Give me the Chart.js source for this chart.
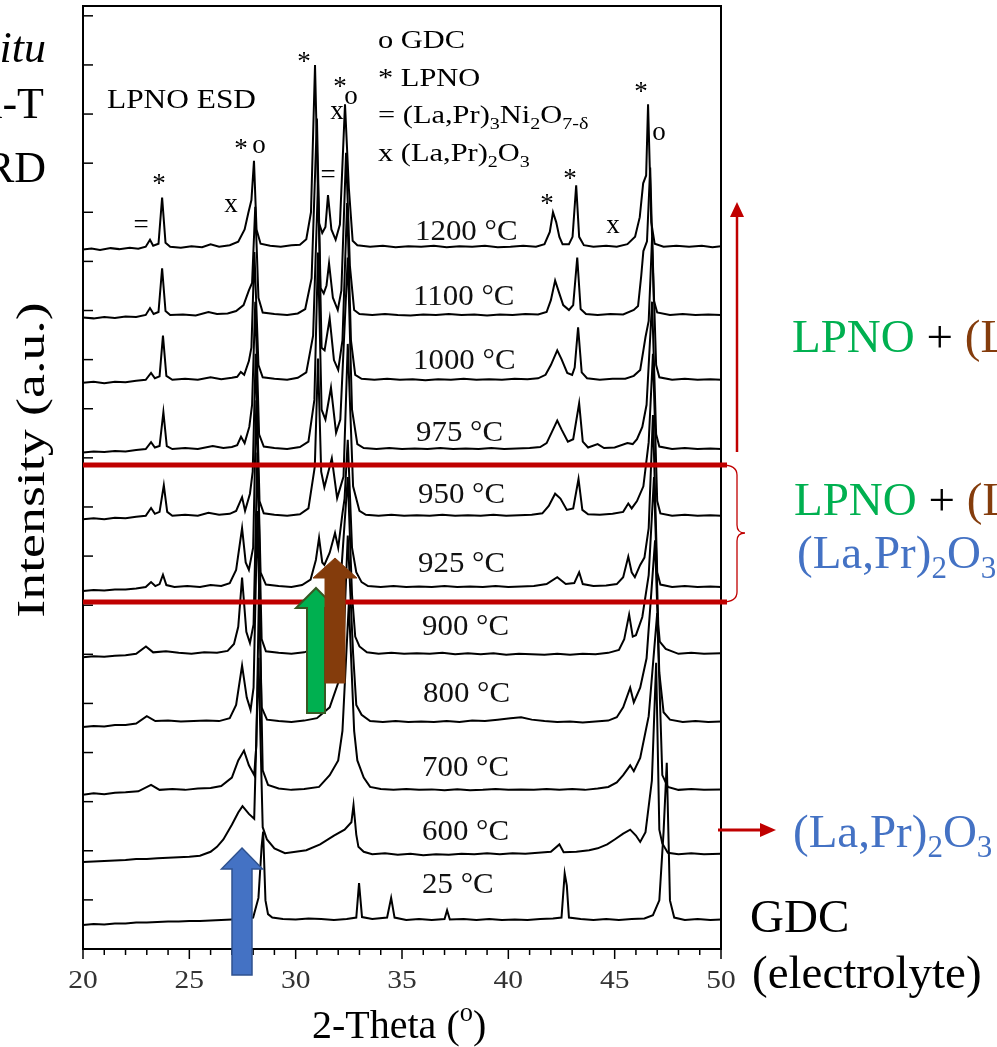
<!DOCTYPE html>
<html>
<head>
<meta charset="utf-8">
<script src="https://cdn.jsdelivr.net/npm/chart.js@4.4.1/dist/chart.umd.min.js"></script>
<style>
  html, body { margin: 0; padding: 0; background: #fff; }
  canvas { display: block; }
</style>
</head>
<body>
<canvas id="xrd" width="997" height="1047"></canvas>
<script>
// temperatures, bottom to top
const temps = ['25 °C', '600 °C', '700 °C', '800 °C', '900 °C', '925 °C', '950 °C', '975 °C', '1000 °C', '1100 °C', '1200 °C']
// vertical stacking offset of each pattern (a.u.)
const offsets = [0.59, 1.93, 3.24, 4.62, 6.01, 7.37, 8.82, 10.18, 11.59, 12.91, 14.30]
const xTicks = [20, 25, 30, 35, 40, 45, 50]

// [2-theta, intensity above baseline]
const p25 = [[20,-0.1],[20.5,-0.08],[21.0,-0.09],[21.5,-0.07],[22.0,-0.07],[22.5,-0.05],[23.0,-0.05],[23.5,-0.04],[24.0,-0.03],[24.5,-0.03],[25.0,-0.02],[25.5,-0.02],[26.0,-0.01],[26.5,0.0],[27.0,0.01],[27.5,0.02],[28.0,0.05],[28.25,0.45],[28.4,1.5],[28.47,1.8],[28.58,0.4],[28.7,0.12],[28.9,0.05],[29.4,0.02],[30.0,0.01],[30.6,0.03],[31.2,0.02],[31.8,0.0],[32.4,0.02],[32.85,0.05],[32.98,0.75],[33.12,0.06],[33.6,0.02],[34.3,0.05],[34.49,0.45],[34.65,0.05],[35.2,0.0],[35.8,0.02],[36.4,0.0],[37.0,0.02],[37.12,0.2],[37.25,0.01],[37.9,0.02],[38.5,0.0],[39.1,0.02],[39.7,0.0],[40.3,0.01],[40.9,0.0],[41.5,0.02],[42.1,0.03],[42.5,0.05],[42.65,0.95],[42.75,0.7],[42.85,0.05],[43.4,0.02],[44.0,0.0],[44.6,0.02],[45.2,0.0],[45.8,0.02],[46.4,0.03],[46.8,0.1],[47.1,0.4],[47.3,1.8],[47.45,3.2],[47.6,0.4],[47.8,0.05],[48.3,0.0],[48.9,0.02],[49.5,0.0],[50,0.01]]
const p600 = [[20,-0.16],[20.5,-0.15],[21.0,-0.14],[21.5,-0.13],[22.0,-0.12],[22.5,-0.1],[23.0,-0.1],[23.5,-0.08],[24.0,-0.07],[24.5,-0.06],[25.0,-0.05],[25.5,-0.03],[26.0,0.05],[26.3,0.15],[26.6,0.3],[27.0,0.6],[27.3,0.85],[27.5,0.98],[27.8,0.82],[28.05,0.72],[28.25,4.0],[28.45,0.55],[28.65,0.3],[29.0,0.12],[29.5,0.02],[30.0,0.05],[30.5,0.08],[31.15,0.2],[31.8,0.38],[32.3,0.5],[32.62,0.65],[32.72,1.0],[32.85,0.4],[32.95,0.15],[33.2,0.05],[33.6,0.0],[34.2,0.02],[34.8,-0.01],[35.4,0.01],[36.0,-0.02],[36.6,0.0],[37.2,-0.01],[37.8,0.01],[38.4,0.0],[39.0,0.02],[39.6,0.0],[40.2,0.02],[40.8,0.01],[41.4,0.03],[42.0,0.05],[42.4,0.2],[42.6,0.04],[43.2,0.05],[43.8,0.08],[44.2,0.12],[44.65,0.2],[45.0,0.3],[45.4,0.42],[45.73,0.5],[46.0,0.38],[46.2,0.25],[46.45,0.45],[46.75,1.5],[46.95,3.9],[47.1,0.5],[47.24,0.22],[47.5,0.03],[48.0,0.0],[48.6,0.02],[49.2,0.0],[50,0.01]]
const p700 = [[20,-0.1],[20.5,-0.07],[21.0,-0.09],[21.5,-0.06],[22.0,-0.05],[22.6,-0.03],[23.2,0.1],[23.6,0.0],[24.2,0.02],[24.8,0.0],[25.4,0.03],[26.0,0.04],[26.5,0.08],[27.0,0.25],[27.3,0.6],[27.57,0.8],[27.8,0.5],[28.05,0.3],[28.15,0.9],[28.28,4.2],[28.45,0.4],[28.7,0.1],[29.2,0.03],[29.8,0.0],[30.4,0.02],[31.1,0.06],[31.6,0.3],[32.0,0.6],[32.2,1.2],[32.5,3.8],[32.75,1.2],[32.9,0.6],[33.2,0.25],[33.5,0.06],[34.0,0.02],[34.6,0.0],[35.2,0.02],[35.8,0.0],[36.4,0.01],[37.0,-0.01],[37.6,0.01],[38.2,-0.01],[38.8,0.0],[39.4,0.02],[40.0,0.0],[40.6,0.01],[41.2,0.0],[41.8,0.02],[42.4,0.0],[43.0,0.02],[43.6,0.0],[44.2,0.03],[44.7,0.06],[45.1,0.15],[45.4,0.3],[45.73,0.5],[45.9,0.38],[46.2,0.65],[46.6,1.5],[47.0,3.6],[47.24,0.3],[47.5,0.06],[48.0,0.0],[48.6,0.02],[49.2,0.0],[50,0.01]]
const p800 = [[20,-0.1],[20.5,-0.08],[21.0,-0.09],[21.5,-0.06],[22.0,-0.06],[22.5,-0.03],[23.0,0.12],[23.4,0.02],[24.0,0.03],[24.6,0.01],[25.2,0.02],[25.8,0.03],[26.4,0.02],[26.9,0.08],[27.2,0.35],[27.48,1.15],[27.7,0.5],[27.88,0.25],[28.02,0.7],[28.2,4.3],[28.4,0.3],[28.65,0.05],[29.2,0.02],[29.8,0.0],[30.4,0.03],[31.0,0.08],[31.6,0.3],[32.0,0.8],[32.25,1.6],[32.45,3.8],[32.7,1.4],[32.85,0.35],[33.1,0.15],[33.5,0.02],[34.1,0.0],[34.7,0.02],[35.3,0.0],[35.9,0.01],[36.5,0.0],[37.1,0.02],[37.7,0.0],[38.3,0.03],[38.9,0.02],[39.5,0.05],[40.1,0.08],[40.6,0.1],[41.1,0.05],[41.7,0.02],[42.3,0.0],[42.9,0.01],[43.5,-0.01],[44.1,0.01],[44.7,0.03],[45.1,0.1],[45.4,0.3],[45.73,0.7],[45.9,0.4],[46.2,0.7],[46.5,1.3],[46.9,3.7],[47.1,1.0],[47.3,0.2],[47.6,0.05],[48.2,0.0],[48.8,0.02],[49.4,0.0],[50,0.01]]
const p900 = [[20,-0.07],[20.5,-0.05],[21.0,-0.06],[21.5,-0.04],[22.0,-0.03],[22.5,0.0],[22.96,0.15],[23.3,0.03],[23.9,0.05],[24.5,0.02],[25.1,0.0],[25.7,0.03],[26.3,0.02],[26.8,0.06],[27.1,0.2],[27.3,0.55],[27.48,1.55],[27.68,0.45],[27.85,0.22],[28.02,0.6],[28.2,4.1],[28.4,0.3],[28.6,0.05],[29.2,0.02],[29.8,0.0],[30.4,0.03],[31.0,0.12],[31.5,0.35],[31.8,0.7],[32.1,1.4],[32.45,3.6],[32.65,1.2],[32.8,0.35],[33.0,0.15],[33.35,0.03],[33.9,0.0],[34.5,0.02],[35.1,0.0],[35.7,0.01],[36.3,0.0],[36.9,0.02],[37.5,-0.01],[38.1,0.01],[38.7,-0.01],[39.3,0.01],[39.9,-0.02],[40.5,0.0],[41.1,-0.01],[41.7,-0.02],[42.3,0.0],[42.9,-0.02],[43.5,0.0],[44.1,-0.01],[44.7,0.02],[45.2,0.08],[45.45,0.3],[45.68,0.8],[45.85,0.35],[46.0,0.38],[46.3,0.75],[46.6,1.6],[46.85,3.6],[47.05,0.6],[47.12,0.25],[47.4,0.1],[48.0,0.0],[48.6,0.02],[49.2,0.0],[50,0.01]]
const p925 = [[20,-0.08],[20.5,-0.06],[21.0,-0.07],[21.5,-0.05],[22.0,-0.05],[22.5,-0.03],[22.95,0.0],[23.2,0.1],[23.4,0.02],[23.6,0.06],[23.76,0.25],[23.92,0.04],[24.3,0.0],[24.9,0.02],[25.5,0.0],[26.0,0.04],[26.5,0.02],[26.9,0.08],[27.2,0.35],[27.48,1.2],[27.65,0.5],[27.8,0.35],[28.0,0.8],[28.15,3.8],[28.35,0.3],[28.6,0.05],[29.2,0.02],[29.8,0.0],[30.3,0.04],[30.7,0.15],[30.95,0.55],[31.1,1.0],[31.25,0.5],[31.35,0.45],[31.6,0.7],[31.85,1.1],[32.0,0.8],[32.2,1.5],[32.3,1.8],[32.45,3.0],[32.65,0.8],[32.85,0.3],[33.1,0.1],[33.4,0.02],[34.0,0.0],[34.6,0.02],[35.2,0.0],[35.8,0.01],[36.4,0.0],[37.0,0.02],[37.6,0.0],[38.2,0.01],[38.8,0.0],[39.4,0.02],[40.0,0.0],[40.6,0.01],[41.2,0.02],[41.8,0.06],[42.3,0.2],[42.7,0.06],[43.1,0.08],[43.33,0.3],[43.5,0.06],[44.0,0.02],[44.6,0.03],[45.1,0.06],[45.4,0.2],[45.64,0.62],[45.8,0.3],[45.95,0.2],[46.2,0.45],[46.4,0.6],[46.6,1.2],[46.8,3.5],[47.0,0.3],[47.15,0.05],[47.7,0.0],[48.3,0.02],[48.9,0.0],[49.5,0.01],[50,0.0]]
const p950 = [[20,-0.07],[20.5,-0.05],[21.0,-0.07],[21.5,-0.04],[22.0,-0.05],[22.5,-0.02],[22.95,0.0],[23.2,0.16],[23.38,0.04],[23.6,0.08],[23.8,0.62],[23.96,0.08],[24.2,0.0],[24.8,0.02],[25.4,0.0],[25.9,0.06],[26.4,0.02],[26.9,0.04],[27.2,0.1],[27.48,0.38],[27.62,0.1],[27.85,0.45],[27.98,0.9],[28.12,3.3],[28.3,0.3],[28.5,0.05],[29.0,0.02],[29.6,0.0],[30.2,0.03],[30.6,0.15],[30.9,1.0],[31.05,3.2],[31.2,0.9],[31.35,0.58],[31.7,1.17],[31.95,0.36],[32.25,0.8],[32.45,3.5],[32.7,0.6],[33.0,0.1],[33.3,0.02],[33.9,0.0],[34.5,0.02],[35.1,0.0],[35.7,0.01],[36.3,0.0],[36.9,0.02],[37.5,0.0],[38.1,0.01],[38.7,0.0],[39.3,0.02],[39.9,0.0],[40.5,0.01],[41.1,0.02],[41.6,0.05],[41.9,0.2],[42.2,0.45],[42.45,0.35],[42.75,0.12],[43.05,0.15],[43.3,0.75],[43.48,0.12],[43.75,0.03],[44.3,0.02],[44.9,0.04],[45.4,0.08],[45.64,0.25],[45.8,0.15],[46.05,0.3],[46.35,0.6],[46.6,1.5],[46.8,3.3],[47.0,0.3],[47.15,0.05],[47.7,0.0],[48.3,0.02],[48.9,0.0],[49.5,0.01],[50,0.0]]
const p975 = [[20,-0.07],[20.5,-0.05],[21.0,-0.06],[21.5,-0.04],[22.0,-0.05],[22.5,-0.02],[22.95,0.0],[23.2,0.14],[23.38,0.03],[23.6,0.06],[23.78,0.75],[23.94,0.06],[24.2,0.0],[24.8,0.02],[25.4,0.0],[26.1,0.06],[26.6,0.02],[27.0,0.04],[27.25,0.08],[27.43,0.25],[27.6,0.12],[27.82,0.45],[27.95,0.9],[28.1,3.0],[28.28,0.3],[28.5,0.05],[29.0,0.02],[29.6,0.0],[30.2,0.04],[30.6,0.15],[30.88,1.0],[31.05,4.0],[31.22,0.8],[31.4,0.6],[31.66,1.25],[31.9,0.33],[32.1,0.6],[32.45,3.9],[32.65,0.8],[32.9,0.1],[33.2,0.02],[33.8,0.0],[34.4,0.02],[35.0,0.0],[35.6,0.01],[36.2,0.0],[36.8,0.02],[37.4,0.0],[38.0,0.01],[38.6,0.0],[39.2,0.02],[39.8,0.0],[40.4,0.01],[41.0,0.02],[41.5,0.04],[41.8,0.12],[42.05,0.35],[42.3,0.58],[42.5,0.4],[42.8,0.15],[43.05,0.2],[43.33,0.93],[43.5,0.15],[43.75,0.03],[44.2,0.1],[44.5,0.02],[45.0,0.03],[45.6,0.12],[45.85,0.1],[46.05,0.2],[46.3,0.45],[46.5,0.9],[46.76,3.0],[46.95,0.3],[47.1,0.05],[47.7,0.0],[48.3,0.02],[48.9,0.0],[49.5,0.01],[50,0.0]]
const p1000 = [[20,-0.06],[20.5,-0.04],[21.0,-0.07],[21.5,-0.04],[22.0,-0.05],[22.5,-0.02],[22.95,0.0],[23.2,0.14],[23.38,0.03],[23.6,0.07],[23.76,0.9],[23.92,0.08],[24.2,0.0],[24.8,0.02],[25.4,0.0],[26.0,0.05],[26.5,0.01],[27.0,0.04],[27.25,0.06],[27.42,0.16],[27.58,0.1],[27.8,0.38],[27.92,0.66],[28.06,2.6],[28.25,0.3],[28.45,0.05],[29.0,0.02],[29.6,0.0],[30.1,0.04],[30.5,0.15],[30.82,0.9],[31.05,4.0],[31.22,0.65],[31.36,0.6],[31.6,1.25],[31.8,0.4],[32.0,0.2],[32.2,0.8],[32.42,3.6],[32.6,0.8],[32.8,0.1],[33.1,0.02],[33.7,0.0],[34.3,0.02],[34.9,0.0],[35.5,0.01],[36.1,-0.01],[36.7,0.01],[37.3,0.0],[37.9,0.02],[38.5,0.0],[39.1,0.01],[39.7,0.0],[40.3,0.02],[40.9,0.01],[41.4,0.03],[41.75,0.1],[42.0,0.3],[42.3,0.6],[42.5,0.42],[42.77,0.14],[43.0,0.1],[43.12,0.25],[43.28,1.07],[43.45,0.15],[43.7,0.03],[44.3,0.0],[44.9,0.02],[45.5,0.02],[45.9,0.08],[46.2,0.2],[46.35,0.6],[46.45,0.87],[46.6,1.2],[46.76,2.9],[46.95,0.3],[47.1,0.05],[47.7,0.0],[48.3,0.02],[48.9,0.0],[49.5,0.01],[50,0.0]]
const p1100 = [[20,-0.05],[20.5,-0.07],[21.0,-0.04],[21.5,-0.06],[22.0,-0.03],[22.5,-0.04],[22.95,0.0],[23.15,0.14],[23.32,0.02],[23.55,0.06],[23.72,0.95],[23.88,0.08],[24.1,0.0],[24.7,0.01],[25.3,-0.01],[25.9,0.06],[26.3,0.02],[26.8,0.03],[27.2,0.08],[27.55,0.2],[27.8,0.5],[27.95,0.65],[28.1,2.2],[28.25,0.35],[28.45,0.05],[29.0,0.02],[29.6,0.0],[30.1,0.03],[30.45,0.12],[30.75,0.75],[31.0,4.0],[31.17,0.55],[31.32,0.44],[31.45,0.6],[31.57,1.05],[31.75,0.35],[31.98,0.1],[32.15,0.5],[32.37,3.3],[32.55,1.0],[32.75,0.1],[33.0,0.02],[33.6,0.0],[34.2,0.02],[34.8,0.0],[35.4,-0.01],[36.0,0.01],[36.6,0.0],[37.2,0.02],[37.8,0.0],[38.4,0.01],[39.0,-0.01],[39.6,0.01],[40.2,0.0],[40.8,0.02],[41.4,0.01],[41.8,0.06],[42.0,0.3],[42.2,0.7],[42.35,0.5],[42.58,0.2],[42.85,0.1],[43.05,0.2],[43.24,1.17],[43.4,0.12],[43.65,0.02],[44.2,0.0],[44.8,0.02],[45.4,0.01],[45.9,0.1],[46.1,0.18],[46.25,0.8],[46.35,1.3],[46.52,1.5],[46.67,3.0],[46.84,0.3],[47.0,0.05],[47.6,0.0],[48.2,0.02],[48.8,0.0],[49.4,0.01],[50,0.0]]
const p1200 = [[20,-0.06],[20.4,-0.04],[20.8,-0.07],[21.3,-0.03],[21.7,-0.05],[22.2,-0.02],[22.6,-0.04],[22.95,0.0],[23.15,0.14],[23.3,0.02],[23.55,0.06],[23.72,1.0],[23.88,0.08],[24.1,0.0],[24.6,-0.02],[25.1,0.01],[25.6,-0.01],[26.0,0.05],[26.4,0.0],[26.9,0.03],[27.3,0.1],[27.6,0.35],[27.77,0.68],[27.92,0.95],[28.04,1.75],[28.16,0.35],[28.35,0.06],[28.8,0.02],[29.3,0.0],[29.8,0.03],[30.2,0.04],[30.5,0.15],[30.72,0.7],[30.91,3.7],[31.08,0.5],[31.25,0.28],[31.4,0.4],[31.52,1.05],[31.68,0.35],[31.88,0.14],[32.08,0.45],[32.32,2.9],[32.5,1.2],[32.68,0.12],[32.9,0.03],[33.5,0.0],[34.1,0.02],[34.7,-0.01],[35.3,0.01],[35.9,0.0],[36.5,0.02],[37.1,-0.01],[37.7,0.01],[38.3,0.0],[38.9,0.02],[39.5,-0.01],[40.1,0.0],[40.7,0.02],[41.3,0.0],[41.7,0.05],[41.95,0.3],[42.1,0.7],[42.25,0.5],[42.4,0.2],[42.55,0.05],[42.85,0.05],[43.02,0.2],[43.19,1.25],[43.33,0.2],[43.55,0.03],[44.0,0.0],[44.6,0.02],[45.1,0.0],[45.6,0.05],[45.96,0.2],[46.18,0.6],[46.34,1.29],[46.48,1.45],[46.57,2.9],[46.72,0.5],[46.88,0.06],[47.3,0.0],[47.9,0.02],[48.5,0.0],[49.1,0.02],[49.6,-0.01],[50,0.01]]

const patterns = [p25, p600, p700, p800, p900, p925, p950, p975, p1000, p1100, p1200]

const serif = "'Liberation Serif', 'Times New Roman', serif"
const font = (size, style = '') => `${style} ${size}px ${serif}`.trim()

// text made of pieces, some of them sub- or superscript; sx stretches it sideways
const drawParts = (ctx, x, y, size, parts, sx = 1) => {
  ctx.save()
  ctx.translate(x, y)
  ctx.scale(sx, 1)
  ctx.textAlign = 'left'
  let cx = 0
  parts.forEach(([t, color, kind]) => {
    const s = kind ? size * 0.66 : size
    const dy = kind === 'sub' ? size * 0.22 : kind === 'sup' ? -size * 0.42 : 0
    ctx.font = font(s)
    ctx.fillStyle = color
    ctx.fillText(t, cx, dy)
    cx += ctx.measureText(t).width
  })
  ctx.restore()
}

const blockArrow = (ctx, a) => {
  ctx.beginPath()
  ctx.moveTo(a.x, a.tip)
  ctx.lineTo(a.x + a.headW / 2, a.head)
  ctx.lineTo(a.x + a.shaftW / 2, a.head)
  ctx.lineTo(a.x + a.shaftW / 2, a.bottom)
  ctx.lineTo(a.x - a.shaftW / 2, a.bottom)
  ctx.lineTo(a.x - a.shaftW / 2, a.head)
  ctx.lineTo(a.x - a.headW / 2, a.head)
  ctx.closePath()
  ctx.fillStyle = a.fill
  ctx.fill()
  ctx.lineWidth = a.lw
  ctx.strokeStyle = a.stroke
  ctx.stroke()
}

const RED = '#C00000'
const GREEN = '#00B050'
const BROWN = '#843C0C'
const BLUE = '#4472C4'

const decorations = {
  id: 'decorations',
  beforeDraw(chart) {
    const ctx = chart.ctx
    ctx.save()
    ctx.fillStyle = '#fff'
    ctx.fillRect(0, 0, chart.width, chart.height)
    ctx.restore()
  },
  afterDraw(chart) {
    const ctx = chart.ctx
    const { left, right, top, bottom } = chart.chartArea
    const xs = chart.scales.x
    const ys = chart.scales.y
    ctx.save()

    // frame and ticks
    ctx.strokeStyle = '#000'
    ctx.lineWidth = 2
    ctx.strokeRect(left, top, right - left, bottom - top)
    ctx.lineWidth = 1.5
    for (let v = 20; v <= 50; v++) {
      const px = xs.getPixelForValue(v)
      ctx.beginPath()
      ctx.moveTo(px, bottom)
      ctx.lineTo(px, bottom + (v % 5 === 0 ? 10 : 6))
      ctx.stroke()
    }
    for (let v = 1; v <= 19; v++) {
      const py = ys.getPixelForValue(v)
      ctx.beginPath()
      ctx.moveTo(left, py)
      ctx.lineTo(left + 10, py)
      ctx.stroke()
    }

    // tick labels
    ctx.font = font(25)
    ctx.fillStyle = '#333'
    xTicks.forEach((v) => {
      const px = xs.getPixelForValue(v)
      ctx.save()
      ctx.translate(px, 988)
      ctx.scale(1.18, 1)
      ctx.textAlign = 'center'
      ctx.fillText(String(v), 0, 0)
      ctx.restore()
    })

    // axis titles
    ctx.textBaseline = 'alphabetic'
    drawParts(ctx, 312, 1038, 40, [['2-Theta (', '#000'], ['o', '#000', 'sup'], [')', '#000']])
    ctx.save()
    ctx.translate(44, 460)
    ctx.rotate(-Math.PI / 2)
    ctx.scale(1.38, 1)
    ctx.textAlign = 'center'
    ctx.font = font(39)
    ctx.fillStyle = '#000'
    ctx.fillText('Intensity (a.u.)', 0, 0)
    ctx.restore()

    // cropped title on the left
    ctx.textAlign = 'right'
    ctx.fillStyle = '#000'
    ctx.font = font(44, 'italic')
    ctx.fillText('In situ', 46, 62)
    ctx.font = font(44)
    ctx.fillText('High-T', 44, 118)
    ctx.fillText('XRD', 46, 182)

    // labels inside the plot
    const k = '#000'
    drawParts(ctx, 107, 108, 28, [['LPNO ESD', k]], 1.12)
    drawParts(ctx, 378, 48, 26, [['o GDC', k]], 1.17)
    drawParts(ctx, 378, 86, 26, [['* LPNO', k]], 1.17)
    drawParts(ctx, 378, 123, 26, [['= (La,Pr)', k], ['3', k, 'sub'], ['Ni', k], ['2', k, 'sub'], ['O', k], ['7-δ', k, 'sub']], 1.17)
    drawParts(ctx, 378, 161, 26, [['x (La,Pr)', k], ['2', k, 'sub'], ['O', k], ['3', k, 'sub']], 1.17)

    const tempPos = [[422, 893], [422, 840], [422, 776], [423, 702], [422, 635], [418, 572], [418, 503], [416, 441], [413, 369], [413, 305], [415, 240]]
    temps.forEach((t, i) => drawParts(ctx, tempPos[i][0], tempPos[i][1], 30, [[t, '#111']], 1.03))

    // peak markers: [glyph, centre x, centre y]
    const marks = [['=', 141, 227], ['*', 159, 180], ['x', 231, 206], ['*', 241, 145], ['o', 259, 147],
      ['*', 304, 58], ['*', 340, 83], ['o', 351, 98], ['x', 337, 113], ['=', 328, 177],
      ['*', 547, 200], ['*', 570, 175], ['x', 613, 227], ['*', 641, 88], ['o', 659, 134]]
    ctx.textAlign = 'center'
    ctx.font = font(27)
    ctx.fillStyle = '#000'
    marks.forEach(([g, x, y]) => {
      const dy = g === '*' ? 12 : 6
      ctx.fillText(g, x, y + dy)
    })

    // red phase boundaries
    ctx.strokeStyle = RED
    ctx.lineWidth = 5
    ;[465, 602].forEach((y) => {
      ctx.beginPath()
      ctx.moveTo(left, y)
      ctx.lineTo(727, y)
      ctx.stroke()
    })
    // brace
    ctx.lineWidth = 1.3
    ctx.beginPath()
    ctx.moveTo(722, 465)
    ctx.quadraticCurveTo(737, 465, 737, 475)
    ctx.lineTo(737, 525)
    ctx.quadraticCurveTo(737, 533, 745, 533)
    ctx.quadraticCurveTo(737, 533, 737, 541)
    ctx.lineTo(737, 592)
    ctx.quadraticCurveTo(737, 602, 722, 602)
    ctx.stroke()
    // vertical arrow
    ctx.lineWidth = 2.5
    ctx.beginPath()
    ctx.moveTo(737, 452)
    ctx.lineTo(737, 214)
    ctx.stroke()
    ctx.fillStyle = RED
    ctx.beginPath()
    ctx.moveTo(737, 202)
    ctx.lineTo(744, 217)
    ctx.lineTo(730, 217)
    ctx.closePath()
    ctx.fill()
    // horizontal arrow
    ctx.lineWidth = 3
    ctx.beginPath()
    ctx.moveTo(718, 830)
    ctx.lineTo(762, 830)
    ctx.stroke()
    ctx.beginPath()
    ctx.moveTo(776, 830)
    ctx.lineTo(760, 823)
    ctx.lineTo(760, 837)
    ctx.closePath()
    ctx.fill()

    // block arrows
    blockArrow(ctx, { x: 242, shaftW: 20, headW: 41, tip: 848, head: 869, bottom: 975, fill: BLUE, stroke: '#2F528F', lw: 1.5 })
    blockArrow(ctx, { x: 316, shaftW: 18, headW: 40, tip: 588, head: 608, bottom: 713, fill: GREEN, stroke: '#385723', lw: 2 })
    blockArrow(ctx, { x: 335, shaftW: 20, headW: 44, tip: 558, head: 578, bottom: 683, fill: BROWN, stroke: BROWN, lw: 1 })

    // right-hand notes
    const lpno = [['LPNO', GREEN], [' + ', '#000'], ['(La,Pr)', BROWN], ['3', BROWN, 'sub'], ['Ni', BROWN], ['2', BROWN, 'sub'], ['O', BROWN], ['7', BROWN, 'sub']]
    drawParts(ctx, 792, 352, 47, lpno)
    drawParts(ctx, 794, 515, 47, lpno)
    const lpo = [['(La,Pr)', BLUE], ['2', BLUE, 'sub'], ['O', BLUE], ['3', BLUE, 'sub']]
    drawParts(ctx, 797, 568, 47, lpo)
    drawParts(ctx, 793, 847, 47, lpo)
    drawParts(ctx, 750, 932, 47, [['GDC', '#000']])
    drawParts(ctx, 752, 988, 47, [['(electrolyte)', '#000']])

    ctx.restore()
  },
}

const datasets = patterns.map((pts, i) => ({
  label: temps[i],
  data: pts.map(([x, y]) => ({ x, y: y + offsets[i] })),
  borderColor: '#000',
  borderWidth: 2,
  pointRadius: 0,
  tension: 0,
  fill: false,
}))

new Chart(document.getElementById('xrd'), {
  type: 'line',
  data: { datasets },
  options: {
    responsive: false,
    animation: false,
    devicePixelRatio: 1,
    layout: { padding: { top: 6, right: 276, left: 0, bottom: 0 } },
    plugins: { legend: { display: false }, tooltip: { enabled: false } },
    scales: {
      x: {
        type: 'linear',
        min: 20,
        max: 50,
        afterFit: (s) => { s.height = 98 },
        grid: { display: false, drawTicks: false },
        border: { display: false },
        ticks: { display: false },
      },
      y: {
        type: 'linear',
        min: 0,
        max: 19.2,
        afterFit: (s) => { s.width = 83 },
        grid: { display: false, drawTicks: false },
        border: { display: false },
        ticks: { display: false },
      },
    },
  },
  plugins: [decorations],
})
</script>
</body>
</html>
